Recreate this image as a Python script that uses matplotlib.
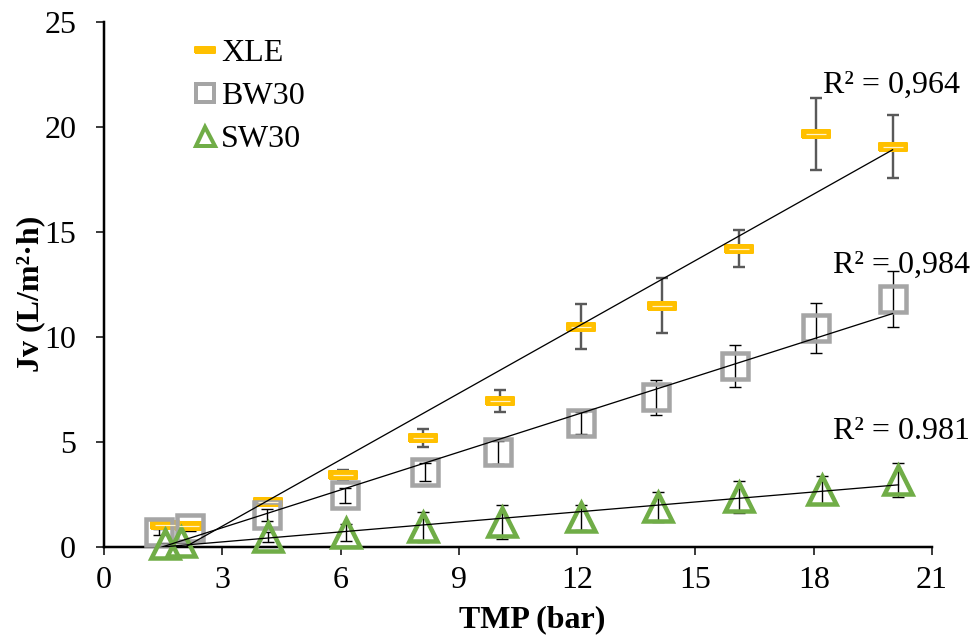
import matplotlib
matplotlib.use("Agg")
import matplotlib.pyplot as plt
import numpy as np
from matplotlib.lines import Line2D

# --- data ---
xle_x = [1.55, 2.15, 4.15, 6.05, 8.1, 10.05, 12.1, 14.15, 16.1, 18.05, 20.0]
xle_y = [1.05, 1.0, 2.14, 3.43, 5.19, 6.95, 10.5, 11.5, 14.2, 19.66, 19.05]
xle_err = [0.1, 0.1, 0.15, 0.24, 0.45, 0.53, 1.05, 1.33, 0.88, 1.71, 1.5]

bw_x = [1.4, 2.18, 4.14, 6.11, 8.15, 10.0, 12.1, 14.0, 16.0, 18.05, 20.0]
bw_y = [0.71, 0.9, 1.52, 2.46, 3.57, 4.52, 5.9, 7.13, 8.62, 10.43, 11.8]
bw_err = [0.15, 0.15, 0.3, 0.35, 0.45, 0.55, 0.52, 0.83, 1.02, 1.19, 1.33]

sw_x = [1.55, 1.95, 4.15, 6.15, 8.1, 10.1, 12.1, 14.05, 16.1, 18.2, 20.15]
sw_y = [0.14, 0.24, 0.47, 0.68, 0.96, 1.2, 1.42, 1.9, 2.38, 2.71, 3.19]
sw_err = [0.05, 0.05, 0.25, 0.4, 0.72, 0.8, 0.6, 0.7, 0.78, 0.65, 0.8]

r2_labels = ["R² = 0,964", "R² = 0,984", "R² = 0.981"]
r2_pos = [(18.24, 22.0), (18.49, 13.43), (18.49, 5.48)]

x_ticks = [0, 3, 6, 9, 12, 15, 18, 21]
y_ticks = [0, 5, 10, 15, 20, 25]

YELLOW = "#FFC000"
GRAY = "#A5A5A5"
GREEN = "#70AD47"
FS = 23

plt.rcParams["font.family"] = ["Liberation Serif", "DejaVu Serif"]

px = 72.0 / 100  # points per pixel at dpi 100

fig = plt.figure(figsize=(9.74, 6.43), dpi=100)
ax = fig.add_axes([104 / 974, 1 - 547 / 643, 828 / 974, 525 / 643])

# rounded yellow bar marker
bar = [(-1, -0.28), (1, -0.28), (1, 0.28), (-1, 0.28), (-1, -0.28)]

# error bars
ax.errorbar(xle_x, xle_y, yerr=xle_err, fmt="none", ecolor="#595959",
            elinewidth=2.4 * px, capsize=4.5, capthick=2.4 * px,
            zorder=2, clip_on=False)
ax.errorbar(bw_x, bw_y, yerr=bw_err, fmt="none", ecolor="black",
            elinewidth=1.4 * px, capsize=4.5, capthick=1.4 * px, zorder=2, clip_on=False)
ax.errorbar(sw_x, sw_y, yerr=sw_err, fmt="none", ecolor="black",
            elinewidth=1.4 * px, capsize=4.5, capthick=1.4 * px, zorder=2, clip_on=False)

# markers
ax.plot(xle_x, xle_y, linestyle="none", marker=bar, markersize=28 * px,
        markerfacecolor=YELLOW, markeredgecolor=YELLOW, markeredgewidth=2 * px,
        zorder=3, clip_on=False)
ax.plot(xle_x, xle_y, linestyle="none", marker="_", markersize=20 * px,
        markeredgecolor="#FFF3CF", markeredgewidth=1.2 * px, zorder=3.1, clip_on=False)
ax.plot(bw_x, bw_y, linestyle="none", marker="s", markersize=26.5 * px,
        markerfacecolor="none", markeredgecolor=GRAY, markeredgewidth=4.5 * px,
        zorder=3, clip_on=False)
ax.plot(sw_x, sw_y, linestyle="none", marker="^", markersize=28 * px,
        markerfacecolor="none", markeredgecolor=GREEN, markeredgewidth=4.5 * px,
        zorder=3, clip_on=False)

# linear trendlines over each data range
for xs, ys in [(xle_x, xle_y), (bw_x, bw_y), (sw_x, sw_y)]:
    k, b = np.polyfit(xs, ys, 1)
    xx = np.array([min(xs), max(xs)])
    ax.plot(xx, k * xx + b, color="black", linewidth=1.3 * px, zorder=4)

for lab, (tx, ty) in zip(r2_labels, r2_pos):
    ax.text(tx, ty, lab, fontsize=FS, ha="left", va="center", zorder=5)

ax.set_xlim(0, 21)
ax.set_ylim(0, 25)
ax.set_xticks(x_ticks)
ax.set_yticks(y_ticks)
ax.tick_params(axis="both", direction="out", length=6, width=1.5 * px,
               labelsize=FS, colors="black")
ax.tick_params(axis="x", pad=8)
ax.tick_params(axis="y", pad=14)

for s in ["top", "right"]:
    ax.spines[s].set_visible(False)
for s in ["left", "bottom"]:
    ax.spines[s].set_linewidth(2.5 * px)

ax.set_xlabel("TMP (bar)", fontsize=FS, fontweight="bold")
ax.set_ylabel("Jv (L/m²·h)", fontsize=FS, fontweight="bold")
ax.xaxis.set_label_coords(0.517, -0.11)
ax.yaxis.set_label_coords(-0.0713, 0.482)

handles = [
    Line2D([], [], linestyle="none", marker=bar, markersize=20 * px,
           markerfacecolor=YELLOW, markeredgecolor=YELLOW, markeredgewidth=2 * px),
    Line2D([], [], linestyle="none", marker="s", markersize=18 * px,
           markerfacecolor="none", markeredgecolor=GRAY, markeredgewidth=4 * px),
    Line2D([], [], linestyle="none", marker="^", markersize=19 * px,
           markerfacecolor="none", markeredgecolor=GREEN, markeredgewidth=4 * px),
]
ax.legend(handles, ["XLE", "BW30", "SW30"], loc="upper left",
          bbox_to_anchor=(0.0796, 1.01), frameon=False, fontsize=FS,
          handlelength=0.8, handletextpad=0.1, labelspacing=0.42,
          borderaxespad=0.3)

fig.savefig("out.png", dpi=100)
